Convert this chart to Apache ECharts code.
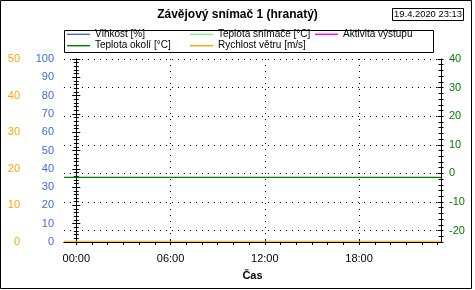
<!DOCTYPE html>
<html>
<head>
<meta charset="utf-8">
<script src="https://cdn.jsdelivr.net/npm/echarts@6/dist/echarts.min.js"></script>
<style>html,body{margin:0;padding:0;background:#fff;}#c{width:475px;height:290px;}</style>
</head>
<body>
<div id="c"></div>
<script>
// ---- data ----
const titleText = 'Závějový snímač 1 (hranatý)';
const dateText = '19.4.2020 23:13';
const xName = 'Čas';
// hours relative to midnight 19.4.2020 (window 18.4. 23:13 – 19.4. 23:13)
const xMin = -0.783;
const xMax = 23.217;
const hours = [-0.783, 0, 2, 4, 6, 8, 10, 12, 14, 16, 18, 20, 22, 23.217];
const vlhkost = [];
const teplotaSnimace = [];
const aktivitaVystupu = [];
const teplotaOkoli = [-1.4, -1.4, -1.4, -1.4, -1.4, -1.4, -1.4, -1.4, -1.4, -1.4, -1.4, -1.4, -1.4, -1.4];
const rychlostVetru = [0.2, 0.2, 0.2, 0.2, 0.2, 0.2, 0.2, 0.2, 0.2, 0.2, 0.2, 0.2, 0.2, 0.2];
const hourTicks = [0,1,2,3,4,5,6,7,8,9,10,11,12,13,14,15,16,17,18,19,20,21,22,23];
const hourLabels = [0, 6, 12, 18];
const tempMinorTicks = [-24,-22,-20,-18,-16,-14,-12,-10,-8,-6,-4,-2,0,2,4,6,8,10,12,14,16,18,20,22,24,26,28,30,32,34,36,38,40];
const tempLabels = [-20, -10, 0, 10, 20, 30, 40];
const seriesNames = ['Vlhkost [%]', 'Teplota snímače [°C]', 'Aktivita výstupu', 'Teplota okolí [°C]', 'Rychlost větru [m/s]'];
const seriesColors = ['#4169E1', '#90EE90', '#FF00FF', '#008000', '#FFA500'];

const FONT = 'Liberation Sans, Arial, sans-serif';
const pair = (vals) => vals.map((v, i) => [hours[i], v]);

const chart = echarts.init(document.getElementById('c'), null, {renderer: 'canvas'});

const blk = {color: '#000', width: 1};
const baseX = {type: 'value', min: xMin, max: xMax, splitLine: {show: false}};
const offLabel = {show: false};

const option = {
  animation: false,
  backgroundColor: '#fff',
  title: [{
    text: titleText, left: 'center', top: 9, padding: 0,
    textStyle: {fontFamily: FONT, fontSize: 12, fontWeight: 'bold', color: '#000'}
  }],
  graphic: [
    {type: 'rect', shape: {x: 0.5, y: 0.5, width: 471, height: 288}, style: {fill: null, stroke: '#000', lineWidth: 1}, silent: true},
    {type: 'rect', shape: {x: 392.5, y: 8.5, width: 71, height: 12}, style: {fill: '#fff', stroke: '#000', lineWidth: 1}, silent: true},
    {type: 'text', x: 428, y: 14.8, style: {text: dateText, fontFamily: FONT, fontSize: 9.4, fill: '#000', align: 'center', verticalAlign: 'middle'}, silent: true},
    {type: 'rect', shape: {x: 64.5, y: 30.5, width: 369, height: 22}, style: {fill: null, stroke: '#000', lineWidth: 1}, silent: true, z: 10}
  ],
  legend: [
    {data: [seriesNames[0], seriesNames[3]], left: 67, top: 28.8},
    {data: [seriesNames[1], seriesNames[4]], left: 190, top: 28.8},
    {data: [seriesNames[2]], left: 315, top: 28.8}
  ].map(l => Object.assign(l, {
    orient: 'vertical', padding: 0, itemGap: 0.4, itemWidth: 23, itemHeight: 1.4,
    icon: 'rect', selectedMode: false,
    textStyle: {fontFamily: FONT, fontSize: 10, color: '#000', lineHeight: 11}
  })),
  grid: {left: 64, right: 34, top: 59, bottom: 48, containLabel: false},
  xAxis: [
    Object.assign({}, baseX, {
      position: 'bottom', offset: 2,
      axisLine: {show: true, lineStyle: blk},
      axisTick: {show: true, inside: false, length: 3, customValues: hourTicks, lineStyle: blk},
      axisLabel: {show: true, customValues: hourLabels, margin: 9, fontFamily: FONT, fontSize: 11, color: '#000',
        formatter: v => String(Math.round(v)).padStart(2, '0') + ':00'},
      name: xName, nameLocation: 'middle', nameGap: 26,
      nameTextStyle: {fontFamily: FONT, fontSize: 11, fontWeight: 'bold', color: '#000'}
    }),
    Object.assign({}, baseX, {
      position: 'bottom', offset: 2,
      axisLine: {show: false},
      axisTick: {show: true, inside: true, length: 3, customValues: hourLabels, lineStyle: blk},
      axisLabel: offLabel,
      splitLine: {show: true, lineStyle: {color: '#000', width: 1, type: [1, 5]}}
    }),
    Object.assign({}, baseX, {
      position: 'top', offset: 0,
      axisLine: {show: true, lineStyle: blk},
      axisTick: {show: true, inside: true, length: 3, customValues: hourTicks, lineStyle: blk},
      axisLabel: offLabel
    })
  ],
  yAxis: [
    { // 0 humidity, left
      type: 'value', position: 'left', offset: 0, min: 0, max: 100, interval: 10,
      axisLine: {show: true, lineStyle: blk},
      axisTick: {show: true, inside: false, length: 4, lineStyle: blk},
      minorTick: {show: true, splitNumber: 5, length: 2.5, lineStyle: blk},
      axisLabel: {margin: 10, fontFamily: FONT, fontSize: 11, color: '#4169E1'},
      splitLine: {show: false}
    },
    { // 1 humidity inside ticks
      type: 'value', position: 'left', offset: 0, min: 0, max: 100, interval: 10,
      axisLine: {show: false},
      axisTick: {show: true, inside: true, length: 4, lineStyle: blk},
      minorTick: {show: true, splitNumber: 5, length: 2.5, lineStyle: blk},
      axisLabel: offLabel, splitLine: {show: false}
    },
    { // 2 wind, far left
      type: 'value', position: 'left', offset: 34, min: 0, max: 50, interval: 10,
      axisLine: {show: true, lineStyle: blk},
      axisTick: {show: true, inside: false, length: 3.5, lineStyle: blk},
      minorTick: {show: true, splitNumber: 5, length: 2, lineStyle: blk},
      axisLabel: {margin: 10, fontFamily: FONT, fontSize: 11, color: '#FFA500'},
      splitLine: {show: false}
    },
    { // 3 temperature, right
      type: 'value', position: 'right', offset: 0, min: -24, max: 40,
      axisLine: {show: true, lineStyle: blk},
      axisTick: {show: true, inside: false, length: 2.5, customValues: tempMinorTicks, lineStyle: blk},
      axisLabel: {customValues: tempLabels, margin: 8, fontFamily: FONT, fontSize: 11, color: '#008000'},
      splitLine: {show: false}
    },
    { // 4 temperature inside minor ticks
      type: 'value', position: 'right', offset: 0, min: -24, max: 40,
      axisLine: {show: false},
      axisTick: {show: true, inside: true, length: 2.5, customValues: tempMinorTicks, lineStyle: blk},
      axisLabel: offLabel, splitLine: {show: false}
    },
    { // 5 temperature major ticks + grid
      type: 'value', position: 'right', offset: 0, min: -24, max: 40,
      axisLine: {show: false},
      axisTick: {show: true, inside: true, length: 3.5, customValues: tempLabels, lineStyle: blk},
      axisLabel: offLabel,
      splitLine: {show: true, lineStyle: {color: '#000', width: 1, type: [1, 5]}}
    }
  ],
  series: [
    {name: seriesNames[0], data: pair(vlhkost), yAxisIndex: 0},
    {name: seriesNames[1], data: pair(teplotaSnimace), yAxisIndex: 3},
    {name: seriesNames[2], data: pair(aktivitaVystupu), yAxisIndex: 0},
    {name: seriesNames[3], data: pair(teplotaOkoli), yAxisIndex: 3},
    {name: seriesNames[4], data: pair(rychlostVetru), yAxisIndex: 2}
  ].map((s, i) => Object.assign(s, {
    type: 'line', xAxisIndex: 0, showSymbol: false, symbol: 'none',
    color: seriesColors[i],
    itemStyle: {color: seriesColors[i]},
    lineStyle: {color: seriesColors[i], width: 1.2}, z: 5
  }))
};
chart.setOption(option);
</script>
</body>
</html>
